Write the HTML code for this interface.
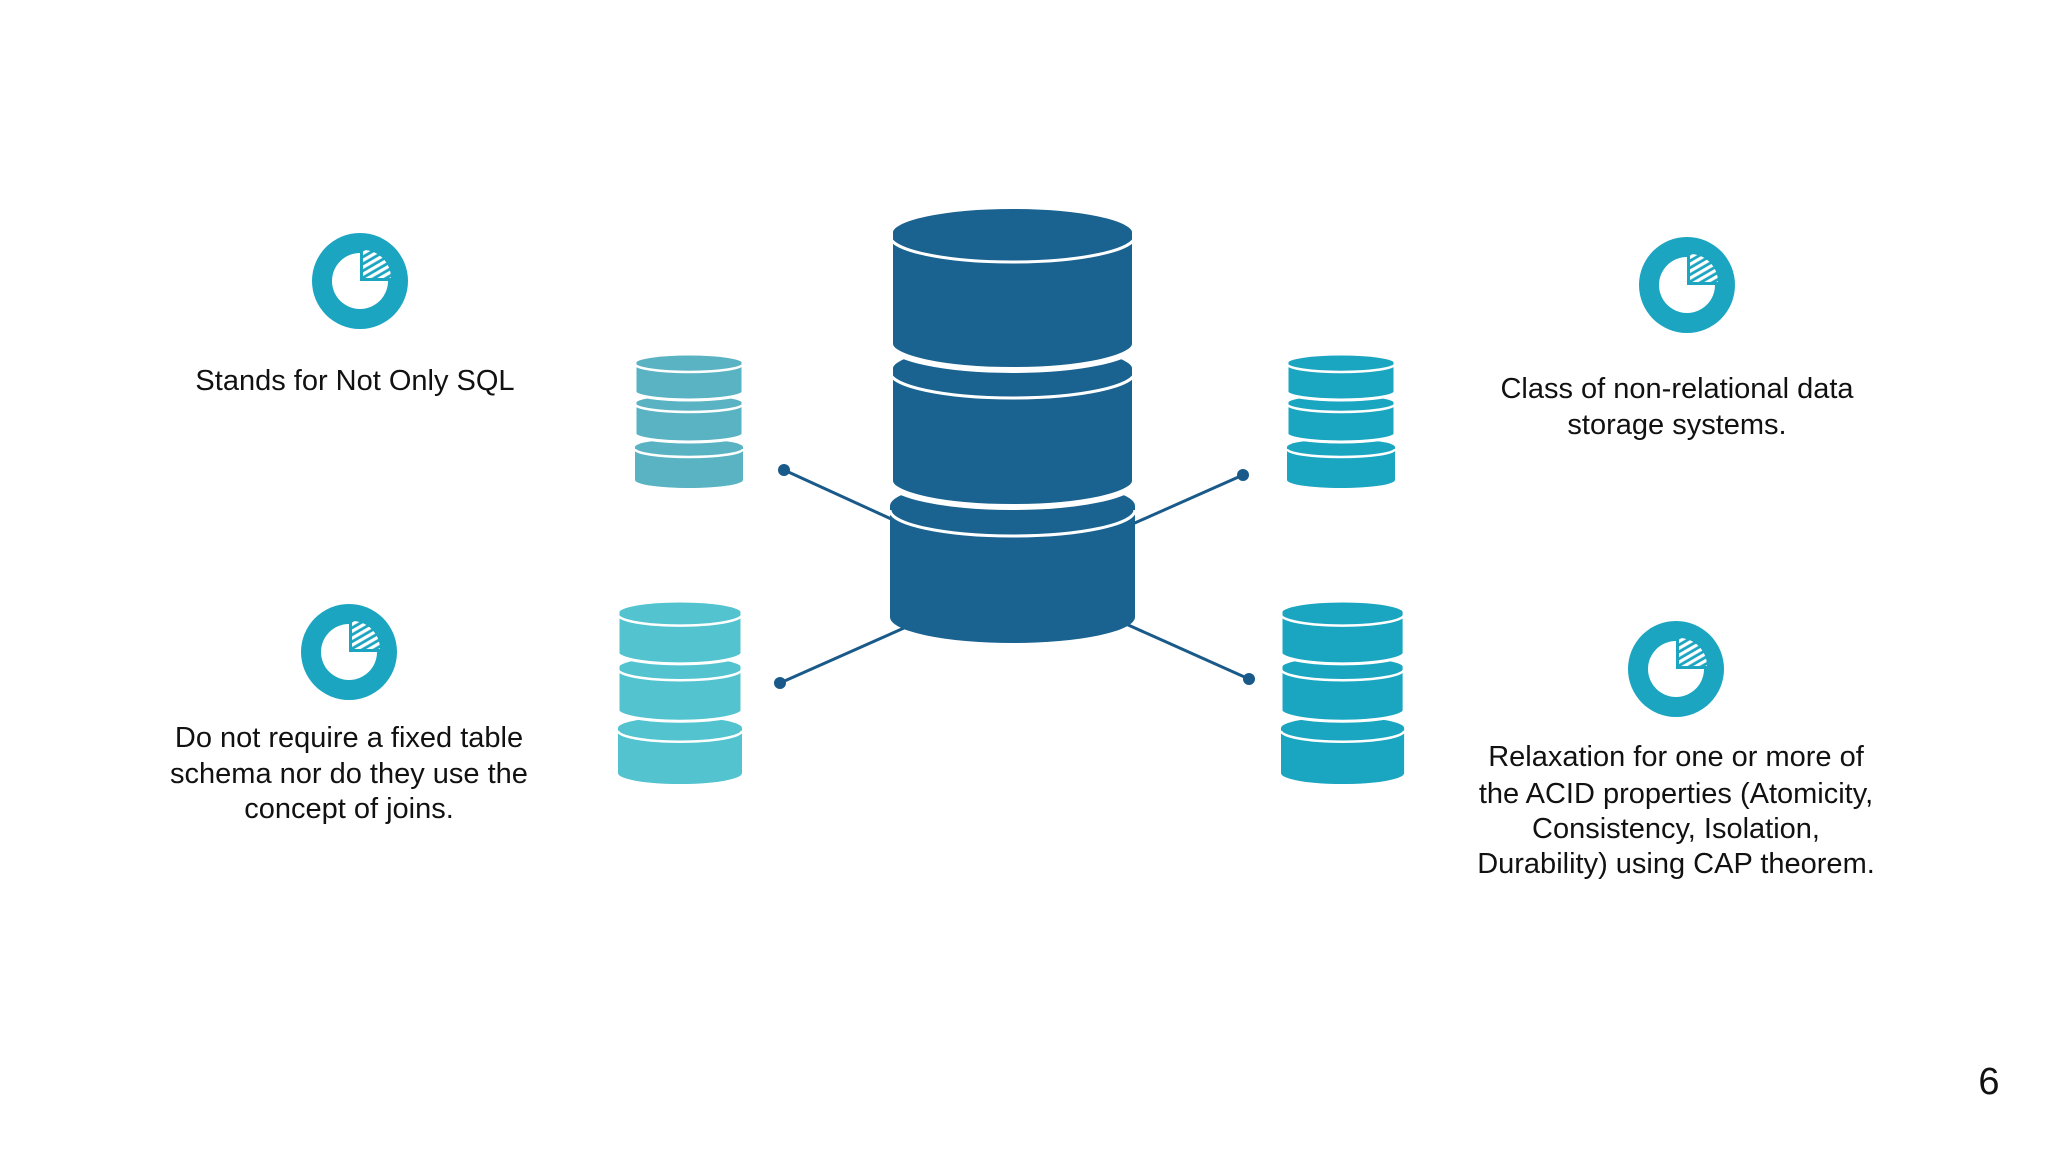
<!DOCTYPE html>
<html><head><meta charset="utf-8"><style>
html,body{margin:0;padding:0;background:#fff;}
svg{display:block;}
text{font-family:"Liberation Sans",Arial,sans-serif;font-size:29px;fill:#111;}
</style></head><body>
<svg width="2048" height="1152" viewBox="0 0 2048 1152" xmlns="http://www.w3.org/2000/svg">
<defs>
  <g id="sc">
    <path d="M0 93 A54 8 0 0 1 108 93 L108 126 A54 8 0 0 1 0 126 Z"/>
    <path d="M0 95 A54 8 0 0 0 108 95" fill="none" stroke="#fff" stroke-width="2.5" vector-effect="non-scaling-stroke"/>
    <path d="M0 48 A54 8 0 0 1 108 48 L108 80 A54 8 0 0 1 0 80 Z" stroke="#fff" stroke-width="3" vector-effect="non-scaling-stroke"/>
    <path d="M0 50 A54 8 0 0 0 108 50" fill="none" stroke="#fff" stroke-width="2.5" vector-effect="non-scaling-stroke"/>
    <path d="M0 8 A54 8 0 0 1 108 8 L108 38 A54 8 0 0 1 0 38 Z" stroke="#fff" stroke-width="3" vector-effect="non-scaling-stroke"/>
    <path d="M0 10 A54 8 0 0 0 108 10" fill="none" stroke="#fff" stroke-width="2.5" vector-effect="non-scaling-stroke"/>
  </g>
  <pattern id="hatch" width="6" height="6" patternUnits="userSpaceOnUse" patternTransform="rotate(-30)">
    <rect width="6" height="3.2" fill="#fff"/>
  </pattern>
  <g id="icon">
    <circle cx="0" cy="0" r="48" fill="#1ba5c1"/>
    <path d="M0 0 L0 -28 A28 28 0 1 0 28 0 Z" fill="#fff"/>
    <path d="M3 -3 L3 -31 A28 28 0 0 1 31 -3 Z" fill="url(#hatch)"/>
  </g>
</defs>

<!-- connectors -->
<g stroke="#1a5a8a" stroke-width="3" fill="#1a5a8a">
  <line x1="784" y1="470" x2="900" y2="523"/>
  <line x1="1243" y1="475" x2="1128" y2="526"/>
  <line x1="780" y1="683" x2="904" y2="628"/>
  <line x1="1249" y1="679" x2="1126" y2="624"/>
  <circle cx="784" cy="470" r="6" stroke="none"/>
  <circle cx="1243" cy="475" r="6" stroke="none"/>
  <circle cx="780" cy="683" r="6" stroke="none"/>
  <circle cx="1249" cy="679" r="6" stroke="none"/>
</g>

<!-- main cylinder -->
<g fill="#1a6390">
  <path d="M890 506 A122.5 26 0 0 1 1135 506 L1135 617 A122.5 26 0 0 1 890 617 Z"/>
  <path d="M890 510 A122.5 26 0 0 0 1135 510" fill="none" stroke="#fff" stroke-width="3"/>
  <path d="M890 368 A122.5 26 0 0 1 1135 368 L1135 481 A122.5 26 0 0 1 890 481 Z" stroke="#fff" stroke-width="6"/>
  <path d="M890 372 A122.5 26 0 0 0 1135 372" fill="none" stroke="#fff" stroke-width="3"/>
  <path d="M890 232 A122.5 26 0 0 1 1135 232 L1135 344 A122.5 26 0 0 1 890 344 Z" stroke="#fff" stroke-width="6"/>
  <path d="M890 236 A122.5 26 0 0 0 1135 236" fill="none" stroke="#fff" stroke-width="3"/>
</g>

<!-- small cylinders -->
<use href="#sc" fill="#5ab3c2" transform="translate(635,354)"/>
<use href="#sc" fill="#1aa5c0" transform="translate(1287,354)"/>
<use href="#sc" fill="#52c3cf" transform="translate(618,601) scale(1.148,1.366)"/>
<use href="#sc" fill="#1aa5c0" transform="translate(1281,601) scale(1.14,1.366)"/>

<!-- icons -->
<use href="#icon" transform="translate(360,281)"/>
<use href="#icon" transform="translate(1687,285)"/>
<use href="#icon" transform="translate(349,652)"/>
<use href="#icon" transform="translate(1676,669)"/>

<!-- text -->
<g text-anchor="middle">
  <text x="355" y="390">Stands for Not Only SQL</text>
  <text x="1677" y="398">Class of non-relational data</text>
  <text x="1677" y="434">storage systems.</text>
  <text x="349" y="747">Do not require a fixed table</text>
  <text x="349" y="783">schema nor do they use the</text>
  <text x="349" y="818">concept of joins.</text>
  <text x="1676" y="766">Relaxation for one or more of</text>
  <text x="1676" y="803">the ACID properties (Atomicity,</text>
  <text x="1676" y="838">Consistency, Isolation,</text>
  <text x="1676" y="873">Durability) using CAP theorem.</text>
</g>
<text x="1989" y="1094" text-anchor="middle" style="font-size:38px">6</text>
</svg>
</body></html>
